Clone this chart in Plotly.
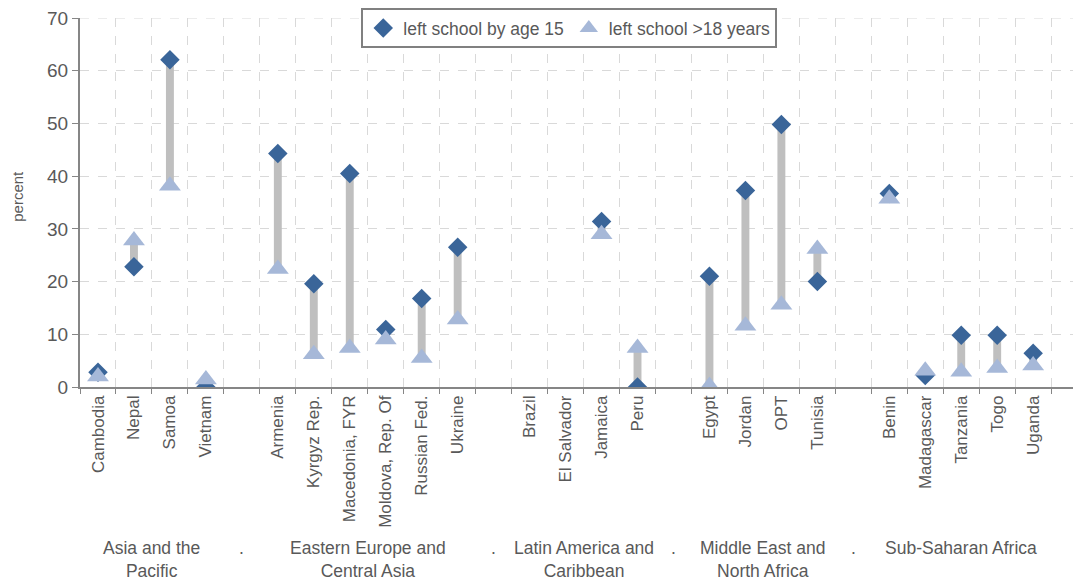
import plotly.graph_objects as go

countries = ["Cambodia", "Nepal", "Samoa", "Vietnam", "",
             "Armenia", "Kyrgyz Rep.", "Macedonia, FYR", "Moldova, Rep. Of", "Russian Fed.", "Ukraine", "",
             "Brazil", "El Salvador", "Jamaica", "Peru", "",
             "Egypt", "Jordan", "OPT", "Tunisia", "",
             "Benin", "Madagascar", "Tanzania", "Togo", "Uganda"]

by_age_15 = [2.8, 22.8, 62.1, 0.0, None,
             44.3, 19.6, 40.5, 10.9, 16.8, 26.5, None,
             None, None, 31.4, 0.0, None,
             21.0, 37.3, 49.8, 20.0, None,
             36.7, 2.2, 9.8, 9.8, 6.4]

over_18 = [2.0, 27.8, 38.2, 1.4, None,
           22.4, 6.2, 7.4, 9.0, 5.5, 12.8, None,
           None, None, 29.0, 7.4, None,
           0.2, 11.6, 15.6, 26.2, None,
           35.7, 3.1, 2.9, 3.6, 4.1]

groups = ["Asia and the<br>Pacific", ".", "Eastern Europe and<br>Central Asia", ".",
          "Latin America and<br>Caribbean", ".", "Middle East and<br>North Africa", ".",
          "Sub-Saharan Africa"]
group_pos = [1.5, 4, 7.5, 11, 13.5, 16, 18.5, 21, 24]

y_max = 70

idx = list(range(len(countries)))

bx, bbase, bh = [], [], []
for i, a, b in zip(idx, by_age_15, over_18):
    if a is not None and b is not None:
        bx.append(i)
        bbase.append(min(a, b))
        bh.append(abs(a - b))

NARROW = "Liberation Sans Narrow, Arial Narrow, Liberation Sans, Arial, sans-serif"
REG = "Liberation Sans, Arial, sans-serif"
TXT = "#595959"

fig = go.Figure()
fig.add_trace(go.Bar(x=bx, y=bh, base=bbase, width=0.22, marker=dict(color="#bfbfbf", line=dict(width=0)),
                     showlegend=False, hoverinfo="skip"))
fig.add_trace(go.Scatter(x=idx, y=by_age_15, mode="markers", name="left school by age 15",
                         marker=dict(symbol="diamond", size=15, color="#3a6599")))
fig.add_trace(go.Scatter(x=idx, y=over_18, mode="markers", name="left school >18 years",
                         marker=dict(symbol="triangle-up", size=19, color="#a6b8d8")))

annotations = []
for g, p in zip(groups, group_pos):
    annotations.append(dict(x=p, y=-0.405, xref="x", yref="paper", text=g, showarrow=False,
                            xanchor="center", yanchor="top", align="center",
                            font=dict(family=NARROW, size=17.5, color=TXT)))
annotations.append(dict(x=-0.062, y=0.518, xref="paper", yref="paper", text="percent", textangle=-90,
                        showarrow=False, xanchor="center", yanchor="middle",
                        font=dict(family=REG, size=15, color=TXT)))

# top gridline at the edge of the plot area
shapes = [dict(type="line", xref="paper", yref="y", x0=0, x1=1, y0=y_max, y1=y_max,
               line=dict(color="#d9d9d9", width=1, dash="dash"), layer="below")]

# the page body adds an 8px offset, so the figure is drawn 8px smaller and margins adjusted
fig.update_layout(
    width=1073, height=574,
    margin=dict(l=72, r=0, t=10, b=195),
    plot_bgcolor="white", paper_bgcolor="white",
    barmode="overlay",
    showlegend=True,
    legend=dict(orientation="h", x=0.281, y=1.027, xanchor="left", yanchor="top",
                bordercolor="#808080", borderwidth=2, bgcolor="white",
                font=dict(family=NARROW, size=17.5, color=TXT), itemwidth=30, tracegroupgap=0),
    annotations=annotations,
    shapes=shapes,
    xaxis=dict(range=[-0.5, 27.33], tickmode="array", tickvals=idx, ticktext=countries,
               tickangle=-90, ticks="", showgrid=False, zeroline=False, automargin=False,
               ticklabeloverflow="allow",
               tickfont=dict(family=REG, size=17, color=TXT),
               showline=True, linecolor="#868686", linewidth=1.5,
               minor=dict(tickmode="array", tickvals=[i - 0.5 for i in range(len(countries) + 1)],
                          ticks="outside", ticklen=5, tickcolor="#868686",
                          showgrid=True, gridcolor="#d9d9d9", griddash="dash", gridwidth=1)),
    yaxis=dict(range=[0, y_max], tickmode="linear", tick0=0, dtick=10, automargin=False,
               ticklabeloverflow="allow",
               showgrid=True, gridcolor="#d9d9d9", griddash="dash", gridwidth=1,
               zeroline=False, showline=True, linecolor="#868686", linewidth=2,
               ticks="outside", ticklen=6, tickcolor="#868686",
               tickfont=dict(family=NARROW, size=19, color=TXT)),
)

fig.write_html("out.html")
